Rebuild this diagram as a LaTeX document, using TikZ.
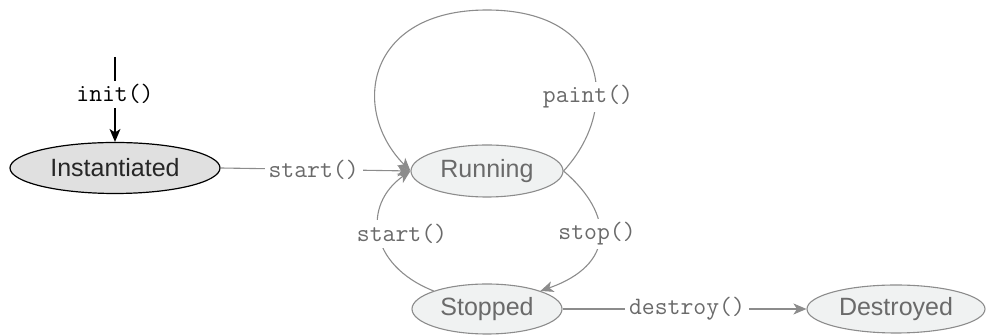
\documentclass[tikz,border=0pt]{standalone}
\usepackage{fontspec}
\setmainfont{Liberation Sans}
\usetikzlibrary{arrows.meta,shapes.geometric}
\definecolor{lineg}{HTML}{8C8C8C}
\definecolor{textg}{HTML}{6A6A6A}
\definecolor{fillg}{HTML}{F0F2F2}
\definecolor{filld}{HTML}{E0E0E0}
\tikzset{
  state/.style={ellipse, draw=lineg, line width=0.55pt, fill=fillg, text=textg,
    font=\fontsize{12.5}{14}\selectfont, inner sep=0pt},
  conn/.style={draw=lineg, line width=0.55pt, -{Stealth[length=6.5pt,width=5.5pt,inset=1.8pt]}},
  lbl/.style={fill=white, text=textg, font=\ttfamily\fontsize{12.5}{14}\selectfont, inner sep=2pt},
}
\begin{document}
\begin{tikzpicture}[x=0.5pt,y=-0.5pt]
\useasboundingbox (0,0) rectangle (986,335);
\clip (0,0) rectangle (986,335);
% states
\node[ellipse, draw=black, line width=0.6pt, fill=filld, text=black!85,
  font=\fontsize{12.5}{14}\selectfont, minimum width=105pt, minimum height=25.5pt, inner sep=0pt]
  (inst) at (115,168) {Instantiated};
\node[state, minimum width=76pt, minimum height=26pt] (run) at (487,171) {Running};
\node[state, minimum width=75pt, minimum height=25pt] (stop) at (487,309) {Stopped};
\node[state, minimum width=89pt, minimum height=24pt] (dest) at (896,309) {Destroyed};
% init
\coordinate (top) at (115,57);
\draw[draw=black, line width=0.6pt, -{Stealth[length=6.5pt,width=5.5pt,inset=1.8pt]}] (top) -- (inst.north)
  node[pos=0.44, fill=white, text=black, font=\ttfamily\fontsize{12.5}{14}\selectfont, inner sep=2pt] (initl) {init()};
% start from instantiated
\draw[conn] (inst.east) -- (run.west) node[pos=0.49, lbl] (startl) {start()};
% paint loop
\coordinate (loopTop) at (487,10);
\draw[conn] (run.east) .. controls (620,110) and (610,10) .. (loopTop)
  .. controls (366,10) and (350,110) .. (run.west);
\node[lbl] (paintl) at (588,97) {paint()};
% stop
\draw[conn] (run.east) .. controls (615,215) and (615,265) .. (stop.north east);
\node[lbl] (stopl) at (597,234) {stop()};
% start from stopped
\draw[conn] (stop.north west) .. controls (368,265) and (362,205) .. (run.west);
\node[lbl] (start2l) at (402,234) {start()};
% destroy
\draw[conn] (stop.east) -- (dest.west) node[pos=0.51, lbl] (destl) {destroy()};
\end{tikzpicture}
\end{document}
